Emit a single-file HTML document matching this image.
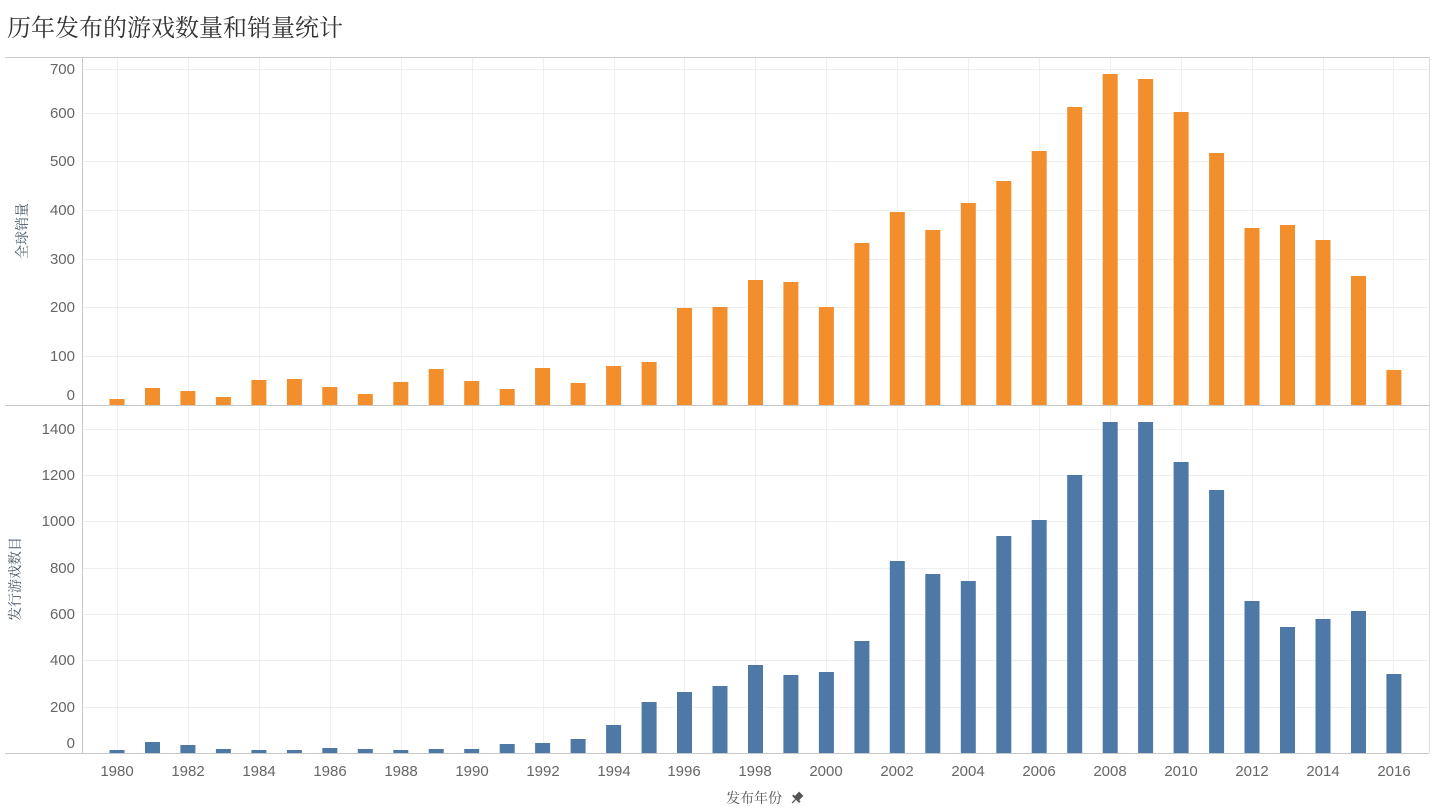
<!DOCTYPE html>
<html><head><meta charset="utf-8"><style>
body{margin:0;background:#fff;width:1434px;height:808px;overflow:hidden}
svg{display:block}
text{font-family:"Liberation Sans","Noto Sans CJK SC",sans-serif}
.serif{font-family:"Liberation Serif","Noto Serif CJK SC",serif}
</style></head><body>
<svg width="1434" height="808" xmlns="http://www.w3.org/2000/svg">
<text class="serif" x="7" y="36" font-size="24" fill="#333">历年发布的游戏数量和销量统计</text>
<line x1="5" y1="57.5" x2="1429" y2="57.5" stroke="#ccc"/>
<line x1="1429.5" y1="57" x2="1429.5" y2="753" stroke="#ddd"/>
<g stroke="#efefef">
<line x1="82" x2="1429" y1="69.5" y2="69.5"/><line x1="82" x2="1429" y1="113.5" y2="113.5"/><line x1="82" x2="1429" y1="161.5" y2="161.5"/><line x1="82" x2="1429" y1="210.5" y2="210.5"/><line x1="82" x2="1429" y1="259.5" y2="259.5"/><line x1="82" x2="1429" y1="307.5" y2="307.5"/><line x1="82" x2="1429" y1="356.5" y2="356.5"/>
<line x1="82" x2="1429" y1="429.5" y2="429.5"/><line x1="82" x2="1429" y1="475.5" y2="475.5"/><line x1="82" x2="1429" y1="521.5" y2="521.5"/><line x1="82" x2="1429" y1="568.5" y2="568.5"/><line x1="82" x2="1429" y1="614.5" y2="614.5"/><line x1="82" x2="1429" y1="660.5" y2="660.5"/><line x1="82" x2="1429" y1="707.5" y2="707.5"/>
<line y1="58" y2="753" x1="117.5" x2="117.5"/><line y1="58" y2="753" x1="188.5" x2="188.5"/><line y1="58" y2="753" x1="259.5" x2="259.5"/><line y1="58" y2="753" x1="330.5" x2="330.5"/><line y1="58" y2="753" x1="401.5" x2="401.5"/><line y1="58" y2="753" x1="472.5" x2="472.5"/><line y1="58" y2="753" x1="543.5" x2="543.5"/><line y1="58" y2="753" x1="614.5" x2="614.5"/><line y1="58" y2="753" x1="684.5" x2="684.5"/><line y1="58" y2="753" x1="755.5" x2="755.5"/><line y1="58" y2="753" x1="826.5" x2="826.5"/><line y1="58" y2="753" x1="897.5" x2="897.5"/><line y1="58" y2="753" x1="968.5" x2="968.5"/><line y1="58" y2="753" x1="1039.5" x2="1039.5"/><line y1="58" y2="753" x1="1110.5" x2="1110.5"/><line y1="58" y2="753" x1="1181.5" x2="1181.5"/><line y1="58" y2="753" x1="1252.5" x2="1252.5"/><line y1="58" y2="753" x1="1323.5" x2="1323.5"/><line y1="58" y2="753" x1="1393.5" x2="1393.5"/>
</g>
<g fill="#f28e2b">
<rect x="109.5" y="399" width="15" height="6"/><rect x="145" y="388" width="15" height="17"/><rect x="180.4" y="391" width="15" height="14"/><rect x="215.9" y="397" width="15" height="8"/><rect x="251.4" y="380" width="15" height="25"/><rect x="286.9" y="379" width="15" height="26"/><rect x="322.3" y="387" width="15" height="18"/><rect x="357.8" y="394" width="15" height="11"/><rect x="393.3" y="382" width="15" height="23"/><rect x="428.7" y="369" width="15" height="36"/><rect x="464.2" y="381" width="15" height="24"/><rect x="499.7" y="389" width="15" height="16"/><rect x="535.1" y="368" width="15" height="37"/><rect x="570.6" y="383" width="15" height="22"/><rect x="606.1" y="366" width="15" height="39"/><rect x="641.6" y="362" width="15" height="43"/><rect x="677" y="308" width="15" height="97"/><rect x="712.5" y="307" width="15" height="98"/><rect x="748" y="280" width="15" height="125"/><rect x="783.4" y="282" width="15" height="123"/><rect x="818.9" y="307" width="15" height="98"/><rect x="854.4" y="243" width="15" height="162"/><rect x="889.8" y="212" width="15" height="193"/><rect x="925.3" y="230" width="15" height="175"/><rect x="960.8" y="203" width="15" height="202"/><rect x="996.3" y="181" width="15" height="224"/><rect x="1031.7" y="151" width="15" height="254"/><rect x="1067.2" y="107" width="15" height="298"/><rect x="1102.7" y="74" width="15" height="331"/><rect x="1138.1" y="79" width="15" height="326"/><rect x="1173.6" y="112" width="15" height="293"/><rect x="1209.1" y="153" width="15" height="252"/><rect x="1244.5" y="228" width="15" height="177"/><rect x="1280" y="225" width="15" height="180"/><rect x="1315.5" y="240" width="15" height="165"/><rect x="1351" y="276" width="15" height="129"/><rect x="1386.4" y="370" width="15" height="35"/>
</g>
<g fill="#4e79a7">
<rect x="109.5" y="750" width="15" height="3"/><rect x="145" y="742" width="15" height="11"/><rect x="180.4" y="745" width="15" height="8"/><rect x="215.9" y="749" width="15" height="4"/><rect x="251.4" y="750" width="15" height="3"/><rect x="286.9" y="750" width="15" height="3"/><rect x="322.3" y="748" width="15" height="5"/><rect x="357.8" y="749" width="15" height="4"/><rect x="393.3" y="750" width="15" height="3"/><rect x="428.7" y="749" width="15" height="4"/><rect x="464.2" y="749" width="15" height="4"/><rect x="499.7" y="744" width="15" height="9"/><rect x="535.1" y="743" width="15" height="10"/><rect x="570.6" y="739" width="15" height="14"/><rect x="606.1" y="725" width="15" height="28"/><rect x="641.6" y="702" width="15" height="51"/><rect x="677" y="692" width="15" height="61"/><rect x="712.5" y="686" width="15" height="67"/><rect x="748" y="665" width="15" height="88"/><rect x="783.4" y="675" width="15" height="78"/><rect x="818.9" y="672" width="15" height="81"/><rect x="854.4" y="641" width="15" height="112"/><rect x="889.8" y="561" width="15" height="192"/><rect x="925.3" y="574" width="15" height="179"/><rect x="960.8" y="581" width="15" height="172"/><rect x="996.3" y="536" width="15" height="217"/><rect x="1031.7" y="520" width="15" height="233"/><rect x="1067.2" y="475" width="15" height="278"/><rect x="1102.7" y="422" width="15" height="331"/><rect x="1138.1" y="422" width="15" height="331"/><rect x="1173.6" y="462" width="15" height="291"/><rect x="1209.1" y="490" width="15" height="263"/><rect x="1244.5" y="601" width="15" height="152"/><rect x="1280" y="627" width="15" height="126"/><rect x="1315.5" y="619" width="15" height="134"/><rect x="1351" y="611" width="15" height="142"/><rect x="1386.4" y="674" width="15" height="79"/>
</g>
<line x1="5" y1="405.5" x2="1429" y2="405.5" stroke="#c8c8c8"/>
<line x1="5" y1="753.5" x2="1429" y2="753.5" stroke="#c8c8c8"/>
<line x1="82.5" y1="58" x2="82.5" y2="753" stroke="#c8c8c8"/>
<g font-size="15" fill="#666" text-anchor="end">
<text x="75" y="74">700</text><text x="75" y="118">600</text><text x="75" y="166">500</text><text x="75" y="215">400</text><text x="75" y="264">300</text><text x="75" y="312">200</text><text x="75" y="361">100</text><text x="75" y="400">0</text>
<text x="75" y="434">1400</text><text x="75" y="480">1200</text><text x="75" y="526">1000</text><text x="75" y="573">800</text><text x="75" y="619">600</text><text x="75" y="665">400</text><text x="75" y="712">200</text><text x="75" y="748">0</text>
</g>
<g font-size="15" fill="#666" text-anchor="middle">
<text x="117" y="776">1980</text><text x="188" y="776">1982</text><text x="259" y="776">1984</text><text x="330" y="776">1986</text><text x="401" y="776">1988</text><text x="472" y="776">1990</text><text x="543" y="776">1992</text><text x="614" y="776">1994</text><text x="684" y="776">1996</text><text x="755" y="776">1998</text><text x="826" y="776">2000</text><text x="897" y="776">2002</text><text x="968" y="776">2004</text><text x="1039" y="776">2006</text><text x="1110" y="776">2008</text><text x="1181" y="776">2010</text><text x="1252" y="776">2012</text><text x="1323" y="776">2014</text><text x="1394" y="776">2016</text>
</g>
<text class="serif" x="754" y="803" font-size="14" fill="#555" text-anchor="middle">发布年份</text>
<g transform="translate(797,798) rotate(45)" fill="#555">
<rect x="-3" y="-6" width="6" height="7"/><rect x="-5" y="0" width="10" height="2"/><rect x="-0.6" y="2" width="1.2" height="5"/>
</g>
<text class="serif" transform="translate(27,231) rotate(-90)" font-size="14" fill="#4a5a6a" text-anchor="middle">全球销量</text>
<text class="serif" transform="translate(20,579) rotate(-90)" font-size="14" fill="#4a5a6a" text-anchor="middle">发行游戏数目</text>
</svg>
</body></html>
